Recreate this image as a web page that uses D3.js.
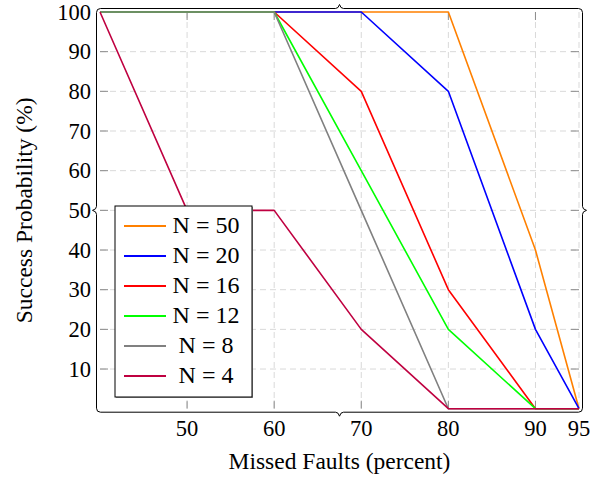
<!DOCTYPE html>
<html>
<head>
<meta charset="utf-8">
<script src="https://cdn.jsdelivr.net/npm/d3@7"></script>
<style>
  body { margin: 0; background: #fff; }
  svg { display: block; }
  svg text { font-family: "Liberation Serif" !important; }
</style>
</head>
<body>
<svg id="chart" width="606" height="479" style="font-family: 'Liberation Serif'"></svg>
<script>
// data
const xValues = [40, 50, 60, 70, 80, 90, 95];
const xTicks = [50, 60, 70, 80, 90, 95];
const yTicks = [10, 20, 30, 40, 50, 60, 70, 80, 90, 100];

const seriesNames = ['N = 50', 'N = 20', 'N = 16', 'N = 12', 'N = 8', 'N = 4'];
const seriesColors = ['#ff8000', '#0000ff', '#ff0000', '#00ff00', '#808080', '#bf0040'];
const n50 = [100, 100, 100, 100, 100, 40, 0];
const n20 = [100, 100, 100, 100, 80, 20, 0];
const n16 = [100, 100, 100, 80, 30, 0, 0];
const n12 = [100, 100, 100, 60, 20, 0, 0];
const n8  = [100, 100, 100, 50, 0, 0, 0];
const n4  = [100, 50, 50, 20, 0, 0, 0];
const seriesValues = [n50, n20, n16, n12, n8, n4];

(() => {
    const svg = d3.select('#chart');
    const serif = '"Liberation Serif"';

    // plot area in px
    const pLeft = 100, pRight = 579, pTop = 12, pBottom = 408.7;
    const pad = 3.5; // frame sits a bit outside the data range

    let x = d3.scaleLinear().domain([40, 95]).range([pLeft, pRight]);
    let y = d3.scaleLinear().domain([0, 100]).range([pBottom, pTop]);

    // dashed grid
    let grid = svg.append('g').attr('stroke', '#d9d9d9').attr('stroke-width', 1).attr('stroke-dasharray', '6,4');
    grid.selectAll('line.gx').data(xTicks).enter().append('line')
        .attr('x1', d => x(d)).attr('x2', d => x(d))
        .attr('y1', pTop).attr('y2', pBottom);
    grid.selectAll('line.gy').data(yTicks.filter(d => d < 100)).enter().append('line')
        .attr('x1', pLeft).attr('x2', pRight)
        .attr('y1', d => y(d)).attr('y2', d => y(d));

    // small tick marks along all four sides
    const tl = 8;
    let ticks = svg.append('g').attr('stroke', '#8c8c8c').attr('stroke-width', 1);
    xTicks.filter(d => d < 95).forEach(d => {
        ticks.append('line').attr('x1', x(d)).attr('x2', x(d)).attr('y1', pTop).attr('y2', pTop + tl);
        ticks.append('line').attr('x1', x(d)).attr('x2', x(d)).attr('y1', pBottom).attr('y2', pBottom - tl);
    });
    yTicks.filter(d => d < 100).forEach(d => {
        ticks.append('line').attr('x1', pLeft).attr('x2', pLeft + tl).attr('y1', y(d)).attr('y2', y(d));
        ticks.append('line').attr('x1', pRight).attr('x2', pRight - tl).attr('y1', y(d)).attr('y2', y(d));
    });

    // data lines
    let line = d3.line().x((d, i) => x(xValues[i])).y(d => y(d));
    seriesValues.forEach((vals, i) => {
        svg.append('path')
           .datum(vals)
           .attr('d', line)
           .attr('fill', 'none')
           .attr('stroke', seriesColors[i])
           .attr('stroke-width', 1.6)
           .attr('stroke-linejoin', 'round');
    });

    // frame: rounded box with a small brace cusp at the middle of each side
    let fl = pLeft - pad, fr = pRight + pad, ft = pTop - pad, fb = pBottom + pad;
    let mx = x((40 + 95) / 2), my = y(50);
    const r = 4, c = 4, h = 4;
    let framePath = [
        `M${fl},${ft + r}`, `Q${fl},${ft} ${fl + r},${ft}`,
        `L${mx - c},${ft}`, `Q${mx - 1},${ft} ${mx},${ft - h}`, `Q${mx + 1},${ft} ${mx + c},${ft}`,
        `L${fr - r},${ft}`, `Q${fr},${ft} ${fr},${ft + r}`,
        `L${fr},${my - c}`, `Q${fr},${my - 1} ${fr + h},${my}`, `Q${fr},${my + 1} ${fr},${my + c}`,
        `L${fr},${fb - r}`, `Q${fr},${fb} ${fr - r},${fb}`,
        `L${mx + c},${fb}`, `Q${mx + 1},${fb} ${mx},${fb + h}`, `Q${mx - 1},${fb} ${mx - c},${fb}`,
        `L${fl + r},${fb}`, `Q${fl},${fb} ${fl},${fb - r}`,
        `L${fl},${my + c}`, `Q${fl},${my + 1} ${fl - h},${my}`, `Q${fl},${my - 1} ${fl},${my - c}`,
        'Z'
    ].join(' ');
    svg.append('path').attr('d', framePath).attr('fill', 'none').attr('stroke', '#000').attr('stroke-width', 1);

    // tick labels
    svg.append('g').selectAll('text').data(yTicks).enter().append('text')
       .attr('x', 91).attr('y', d => y(d)).attr('dy', '0.34em')
       .attr('text-anchor', 'end').attr('font-size', 22.5).attr('fill', '#000')
       .style('font-family', serif, 'important')
       .text(d => d);
    svg.append('g').selectAll('text').data(xTicks).enter().append('text')
       .attr('x', d => x(d)).attr('y', 436)
       .attr('text-anchor', 'middle').attr('font-size', 22.5).attr('fill', '#000')
       .style('font-family', serif, 'important')
       .text(d => d);

    // axis titles
    svg.append('text')
       .attr('x', mx).attr('y', 469)
       .attr('text-anchor', 'middle').attr('font-size', 23.5)
       .style('font-family', serif, 'important')
       .text('Missed Faults (percent)');
    svg.append('text')
       .attr('transform', `translate(32,${my}) rotate(-90)`)
       .attr('text-anchor', 'middle').attr('font-size', 23.5)
       .style('font-family', serif, 'important')
       .text('Success Probability (%)');

    // legend
    let lg = svg.append('g').attr('transform', 'translate(115,206)');
    lg.append('rect').attr('x', 1).attr('y', 1).attr('width', 137).attr('height', 191).attr('fill', '#999');
    lg.append('rect').attr('width', 137).attr('height', 191).attr('fill', '#fff').attr('stroke', '#000').attr('stroke-width', 1);
    seriesNames.forEach((name, i) => {
        let ry = 20 + i * 30;
        lg.append('line').attr('x1', 9).attr('x2', 51).attr('y1', ry).attr('y2', ry)
          .attr('stroke', seriesColors[i]).attr('stroke-width', 2);
        lg.append('text').attr('x', 91).attr('y', ry).attr('dy', '0.3em')
          .attr('text-anchor', 'middle').attr('font-size', 24)
          .style('font-family', serif, 'important')
          .text(name);
    });
})();
</script>
</body>
</html>
